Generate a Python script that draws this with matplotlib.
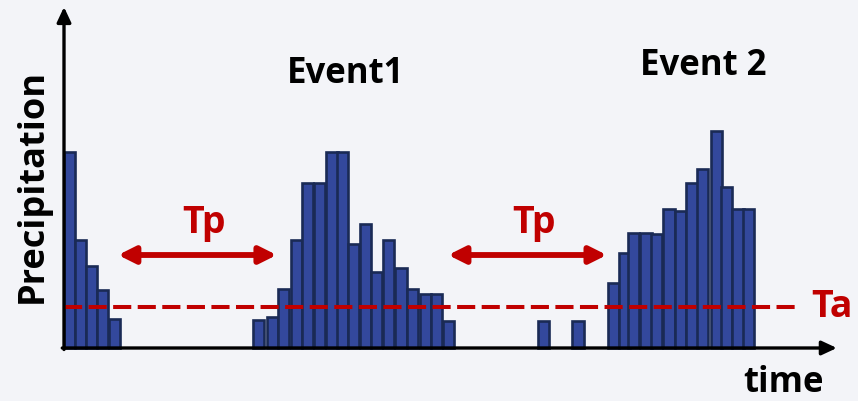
import matplotlib
matplotlib.use('Agg')
import matplotlib.pyplot as plt

# bar centres (time units) and precipitation heights
t_pre = [0.5, 1.45, 2.4, 3.35, 4.4]
p_pre = [19.6, 10.8, 8.2, 5.8, 2.9]

t_ev1 = [16.9, 18.1, 19.1, 20.2, 21.2, 22.2, 23.3, 24.2, 25.2, 26.2, 27.2, 28.2, 29.3, 30.3, 31.4, 32.4, 33.4]
p_ev1 = [2.8, 3.1, 5.9, 10.8, 16.5, 16.5, 19.6, 19.6, 10.4, 12.4, 7.6, 10.8, 8.0, 5.9, 5.4, 5.4, 2.7]

t_gap = [41.7, 44.7]
p_gap = [2.7, 2.7]

t_ev2 = [47.8, 48.7, 49.5, 50.6, 51.5, 52.6, 53.6, 54.6, 55.5, 56.7, 57.6, 58.6, 59.5]
p_ev2 = [6.5, 9.5, 11.5, 11.5, 11.4, 13.9, 13.7, 16.5, 17.9, 21.7, 16.1, 13.9, 13.9]

threshold_ta = 4.1

BG = '#F3F4F8'
BAR = '#33489C'
EDGE = '#1A2A55'
RED = '#C00000'

plt.rcParams['font.family'] = ['Open Sans', 'DejaVu Sans']

fig = plt.figure(figsize=(8.58, 4.01), dpi=100, facecolor=BG)
ax = fig.add_axes([0, 0, 1, 1])
ax.set_facecolor(BG)
ax.set_xlim(-5.565, 69.04)
ax.set_ylim(-5.3, 34.8)
ax.axis('off')

for t, p in [(t_pre, p_pre), (t_ev1, p_ev1), (t_gap, p_gap), (t_ev2, p_ev2)]:
    ax.bar(t, p, width=0.97, color=BAR, edgecolor=EDGE, linewidth=1.9, zorder=2)

# threshold line
ax.plot([0, 63.8], [threshold_ta, threshold_ta], color=RED, lw=2.9,
        ls=(0, (4.5, 1.6)), zorder=3)

# axes with arrows
axis_style = dict(arrowstyle='-|>,head_length=0.9,head_width=0.42', lw=2.4,
                  color='black', shrinkA=0, shrinkB=0)
ax.annotate('', xy=(67.2, 0), xytext=(-0.15, 0), arrowprops=axis_style, zorder=4)
ax.annotate('', xy=(0, 34.1), xytext=(0, -0.15), arrowprops=axis_style, zorder=4)

# Tp arrows
tp_style = dict(arrowstyle='<|-|>,head_length=1.0,head_width=0.5', lw=4.2,
                color=RED, shrinkA=0, shrinkB=0)
ax.annotate('', xy=(18.5, 9.3), xytext=(4.7, 9.3), arrowprops=tp_style)
ax.annotate('', xy=(47.2, 9.3), xytext=(33.4, 9.3), arrowprops=tp_style)

big = 27
ax.text(12.2, 11.5, 'Tp', color=RED, fontsize=big, fontweight='bold', ha='center', va='baseline')
ax.text(40.9, 11.5, 'Tp', color=RED, fontsize=big, fontweight='bold', ha='center', va='baseline')
ax.text(65.0, 3.1, 'Ta', color=RED, fontsize=big, fontweight='bold', ha='left', va='baseline')
ax.text(24.5, 26.5, 'Event1', color='black', fontsize=big - 2, fontweight='bold', ha='center', va='baseline')
ax.text(55.6, 27.3, 'Event 2', color='black', fontsize=big - 2, fontweight='bold', ha='center', va='baseline')
ax.text(62.6, -4.45, 'time', color='black', fontsize=big - 2, fontweight='bold', ha='center', va='baseline')
ax.text(-2.7, 16.2, 'Precipitation', color='black', fontsize=big - 1, fontweight='bold',
        ha='center', va='center', rotation=90)

fig.savefig('out.png', dpi=100, facecolor=BG)
